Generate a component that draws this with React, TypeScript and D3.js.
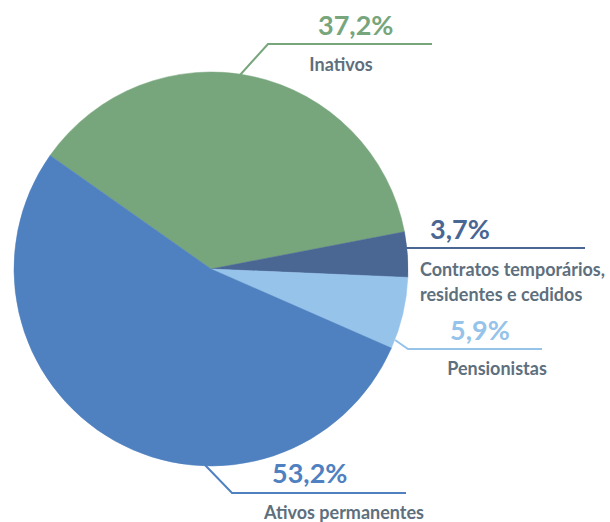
import React from "react";
import * as d3 from "d3";

const categories = ["Inativos", "Contratos temporários, residentes e cedidos", "Pensionistas", "Ativos permanentes"];
const values = [37.2, 3.7, 5.9, 53.2];
const valueLabels = ["37,2%", "3,7%", "5,9%", "53,2%"];
const labelLines = [["Inativos"], ["Contratos temporários,", "residentes e cedidos"], ["Pensionistas"], ["Ativos permanentes"]];
const colors = ["#77a57c", "#4a6794", "#95c3ea", "#4f80c0"];

const W = 610, H = 522;
const cx = 211, cy = 269, R = 197;
const startDeg = -54.8;

// label layout: leader points (relative to page), text positions
const layout = [
  { line: [[240, 75], [268, 44], [432, 44]], pct: [318, 35], lab: [341, 71], anchor: "middle" },
  { line: [[404, 248], [585, 248]], pct: [430, 239], lab: [420, 276], anchor: "start" },
  { line: [[395, 340], [408, 349], [542, 349]], pct: [450, 340], lab: [497, 375], anchor: "middle" },
  { line: [[205, 465], [232, 493], [406, 493]], pct: [272, 483], lab: [344, 519], anchor: "middle" },
];

export default function App() {
  const pie = d3.pie<number>().sort(null).value((d) => d)
    .startAngle((startDeg * Math.PI) / 180)
    .endAngle((startDeg * Math.PI) / 180 + 2 * Math.PI);
  const arcs = pie(values);
  const arc = d3.arc<d3.PieArcDatum<number>>().innerRadius(0).outerRadius(R);
  const lineGen = d3.line();
  const font = "Lato, 'Open Sans', sans-serif";
  return (
    <svg width={W} height={H} style={{ position: "absolute", left: 0, top: 0 }}>
      <g transform={`translate(${cx},${cy})`}>
        {arcs.map((a, i) => (
          <path key={i} d={arc(a) || ""} fill={colors[i]} stroke={colors[i]} strokeWidth={0.5} />
        ))}
      </g>
      {layout.map((l, i) => (
        <g key={i}>
          <path d={lineGen(l.line as [number, number][]) || ""} fill="none" stroke={colors[i]} strokeWidth={2} />
          <text x={l.pct[0]} y={l.pct[1]} fill={colors[i]} fontFamily={font} fontWeight={700} fontSize={27}>
            {valueLabels[i]}
          </text>
          {labelLines[i].map((t, j) => (
            <text key={j} x={l.lab[0]} y={l.lab[1] + j * 25} textAnchor={l.anchor} fill="#5e6f7d" fontFamily={font} fontWeight={700} fontSize={18}>
              {t}
            </text>
          ))}
        </g>
      ))}
    </svg>
  );
}
